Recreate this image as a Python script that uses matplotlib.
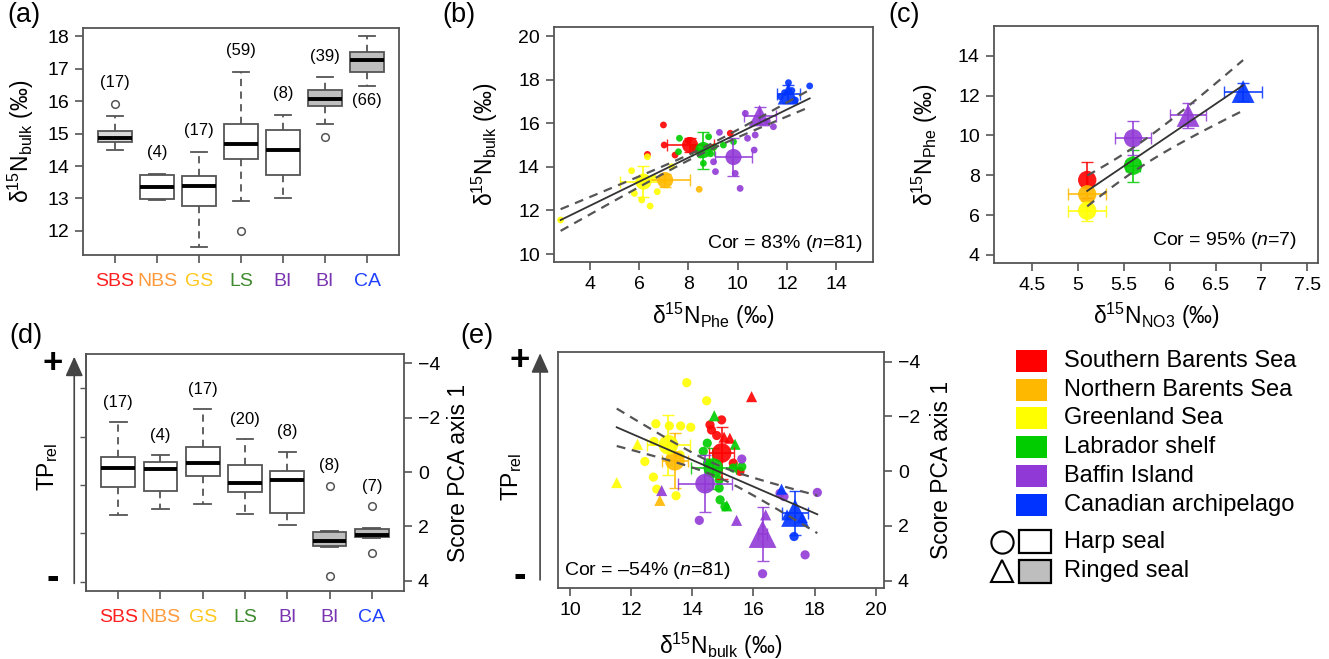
import matplotlib
matplotlib.use('Agg')
import matplotlib.pyplot as plt
import numpy as np
from matplotlib.patches import Rectangle
from matplotlib.lines import Line2D

plt.rcParams['font.family'] = ['Liberation Sans', 'DejaVu Sans']
plt.rcParams['mathtext.fontset'] = 'custom'
plt.rcParams['mathtext.rm'] = 'Liberation Sans'
plt.rcParams['mathtext.it'] = 'Liberation Sans:italic'
plt.rcParams['mathtext.bf'] = 'Liberation Sans:bold'

# ---------------- data ----------------
regions = ['Southern Barents Sea', 'Northern Barents Sea', 'Greenland Sea',
           'Labrador shelf', 'Baffin Island', 'Canadian archipelago']
region_colors = ['#FF0000', '#FFB800', '#FFFF00', '#00CC00', '#9139D6', '#0033FF']
box_labels = ['SBS', 'NBS', 'GS', 'LS', 'BI', 'BI', 'CA']
box_label_colors = ['#FF2020', '#FF9A3C', '#FFC81E', '#3F8A2E', '#7A35B0', '#7A35B0', '#2040FF']
box_region_idx = [0, 1, 2, 3, 4, 4, 5]
box_species = ['harp', 'harp', 'harp', 'harp', 'harp', 'ringed', 'ringed']

# (a) d15N bulk box statistics
a_med = [14.87, 13.35, 13.40, 14.68, 14.49, 16.07, 17.27]
a_q1 = [14.74, 12.99, 12.77, 14.22, 13.72, 15.86, 16.90]
a_q3 = [15.08, 13.71, 13.68, 15.29, 15.10, 16.33, 17.50]
a_wlo = [14.48, 12.94, 11.52, 12.92, 13.00, 15.28, 16.46]
a_whi = [15.53, 13.76, 14.44, 16.90, 15.58, 16.73, 18.00]
a_fliers = [[15.92], [], [], [11.99], [], [14.90], []]
a_n = [17, 4, 17, 59, 8, 39, 66]
a_fill = ['#D9D9D9', 'white', 'white', 'white', 'white', '#BEBEBE', '#BEBEBE']

# (d) PCA axis-1 score box statistics
d_med = [-0.14, -0.10, -0.32, 0.40, 0.30, 2.53, 2.31]
d_q1 = [-0.57, -0.36, -0.91, -0.26, -0.05, 2.20, 2.08]
d_q3 = [0.53, 0.68, 0.14, 0.74, 1.49, 2.72, 2.40]
d_wlo = [-1.83, -0.62, -2.31, -1.21, -0.75, 2.15, 2.05]
d_whi = [1.58, 1.36, 1.18, 1.55, 1.93, 2.75, 2.43]
d_fliers = [[], [], [], [], [], [0.50, 3.81], [1.25, 2.96]]
d_n = [17, 4, 17, 20, 8, 8, 7]
d_fill = ['white', 'white', 'white', 'white', 'white', '#BEBEBE', '#BEBEBE']
d_left_ticks = [-3.1, -1.3, 0.47, 2.25, 4.03]

# (b) individual points: d15N Phe (x) vs d15N bulk (y)
b_sbs_x = [6.99, 6.34, 7.02, 7.46, 9.70, 8.30, 8.00]
b_sbs_y = [15.92, 14.57, 15.00, 14.54, 15.54, 14.80, 15.20]
b_nbs_x = [8.44]
b_nbs_y = [12.97]
b_gs_x = [2.82, 5.70, 5.81, 6.11, 6.45, 6.34, 6.74, 7.33, 6.60]
b_gs_y = [11.56, 13.82, 12.78, 12.48, 12.20, 14.46, 12.86, 14.00, 13.50]
b_ls_x = [7.64, 7.60, 8.82, 8.48, 9.05, 9.42, 9.83, 8.61, 8.20, 8.90]
b_ls_y = [15.31, 14.69, 15.38, 14.54, 14.92, 15.00, 15.15, 14.16, 14.90, 14.60]
b_bi_x = [9.02, 9.10, 9.26, 10.10, 9.90, 10.67, 10.40, 10.71, 10.31, 11.45, 11.20]
b_bi_y = [14.23, 13.78, 15.58, 13.01, 13.70, 14.77, 15.31, 15.46, 16.45, 15.84, 16.10]
b_ca_x = [12.06, 12.92, 11.73, 12.34, 12.20, 11.90]
b_ca_y = [17.86, 17.71, 17.22, 17.06, 17.50, 17.40]
# (b) group means (order of boxes) and SDs
b_mean_x = [8.07, 7.06, 6.18, 8.61, 9.83, 10.89, 12.06]
b_mean_y = [15.00, 13.39, 13.32, 14.77, 14.45, 16.35, 17.35]
b_sd_x = [0.95, 1.00, 0.95, 0.45, 0.75, 0.65, 0.45]
b_sd_y = [0.30, 0.30, 0.70, 0.85, 0.85, 0.40, 0.40]
b_fit = (10.00, 0.5525)          # intercept, slope
b_ci = (8.5, 0.12, 0.085)        # centre, half-width at centre, spread

# (c) group means: d15N NO3 (x) vs d15N Phe (y)
c_mean_x = [5.10, 5.10, 5.10, 5.60, 5.60, 6.20, 6.80]
c_mean_y = [7.76, 7.04, 6.22, 8.48, 9.85, 11.00, 12.20]
c_sd_x = [0.0, 0.21, 0.21, 0.08, 0.20, 0.20, 0.21]
c_sd_y = [0.92, 0.35, 0.50, 0.80, 0.85, 0.65, 0.45]
c_fit = (-8.69, 3.118)
c_ci = (5.61, 0.61, 0.934)

# (e) individual points: d15N bulk (x) vs PCA axis-1 score (y)
e_sbs_harp_x = [14.58, 14.96, 14.63, 15.56, 15.34, 14.80]
e_sbs_harp_y = [-1.69, -1.87, -1.50, 0.01, -0.29, -1.30]
e_sbs_ring_x = [15.94, 15.04, 15.23]
e_sbs_ring_y = [-2.72, -1.24, -1.20]
e_nbs_ring_x = [12.94]
e_nbs_ring_y = [1.07]
e_gs_harp_x = [13.82, 14.47, 12.81, 13.25, 13.62, 13.95, 12.45, 12.73, 12.84, 13.47, 12.75, 13.60]
e_gs_harp_y = [-3.23, -2.57, -1.73, -1.65, -1.65, -1.60, -0.35, 0.22, 0.66, 0.90, -1.08, -0.59]
e_gs_ring_x = [12.21, 11.53]
e_gs_ring_y = [-0.98, 0.42]
e_ls_harp_x = [14.49, 14.36, 14.88, 14.91, 15.34, 14.88, 15.07, 14.50, 15.62]
e_ls_harp_y = [-1.02, -0.72, 0.32, 1.05, -0.11, 0.62, 1.30, -0.30, -0.16]
e_ls_ring_x = [14.72, 15.40, 15.13]
e_ls_ring_y = [-2.02, -0.98, 1.27]
e_bi_harp_x = [14.23, 15.62, 18.09, 17.00, 17.69, 16.30, 16.87]
e_bi_harp_y = [1.80, -0.44, 0.78, 0.93, 3.06, 3.75, 0.81]
e_bi_ring_x = [13.00, 15.45, 16.40]
e_bi_ring_y = [0.71, 1.80, 1.60]
e_ca_harp_x = [17.33]
e_ca_harp_y = [2.39]
e_ca_ring_x = [16.92, 17.60, 17.10]
e_ca_ring_y = [0.66, 1.70, 1.60]
e_mean_x = [14.96, 13.43, 13.22, 14.69, 14.42, 16.30, 17.36]
e_mean_y = [-0.66, -0.38, -0.96, -0.11, 0.46, 2.30, 1.53]
e_sd_x = [0.41, 0.43, 0.70, 0.73, 0.88, 0.15, 0.41]
e_sd_y = [0.95, 1.00, 1.10, 0.75, 1.05, 1.00, 0.80]
e_fit = (-7.189, 0.4847)
e_ci = (14.8, 0.22, 0.198)

# ---------------- figure ----------------
W, H = 1329, 659
fig = plt.figure(figsize=(W / 100, H / 100), dpi=100)
EDGE = '#555555'


def px_axes(x0, y0, x1, y1):
    return fig.add_axes([x0 / W, 1 - y1 / H, (x1 - x0) / W, (y1 - y0) / H])


def style(ax):
    for s in ax.spines.values():
        s.set_color(EDGE)
        s.set_linewidth(1.3)
    ax.tick_params(direction='out', length=6, width=1.2, color=EDGE,
                   labelsize=14, pad=4)


def boxes(ax, med, q1, q3, wlo, whi, fliers, fills):
    stats = [dict(med=m, q1=a, q3=b, whislo=lo, whishi=hi, fliers=f)
             for m, a, b, lo, hi, f in zip(med, q1, q3, wlo, whi, fliers)]
    bp = ax.bxp(stats, positions=range(1, len(stats) + 1), widths=0.8,
                capwidths=0.4, patch_artist=True, showfliers=True,
                boxprops=dict(edgecolor=EDGE, linewidth=1.3),
                whiskerprops=dict(color=EDGE, linestyle=(0, (4, 3)), linewidth=1.3),
                capprops=dict(color=EDGE, linewidth=1.3),
                medianprops=dict(color='black', linewidth=2.8),
                flierprops=dict(marker='o', markerfacecolor='none',
                                markeredgecolor=EDGE, markersize=5.5,
                                markeredgewidth=1.1))
    for p, fc in zip(bp['boxes'], fills):
        p.set_facecolor(fc)
    ax.set_xlim(0.24, len(stats) + 0.76)
    ax.set_xticks(range(1, len(stats) + 1))
    ax.set_xticklabels(box_labels)
    for t, c in zip(ax.get_xticklabels(), box_label_colors):
        t.set_color(c)
    ax.tick_params(axis='x', pad=7)


def fit_lines(ax, xs, fit, ci):
    xx = np.linspace(min(xs), max(xs), 100)
    yy = fit[0] + fit[1] * xx
    hw = np.sqrt(ci[1] ** 2 + (ci[2] * (xx - ci[0])) ** 2)
    ax.plot(xx, yy, color='#333333', lw=1.3, zorder=6)
    ax.plot(xx, yy + hw, color='#555555', lw=1.6, ls=(0, (4, 3)), zorder=6)
    ax.plot(xx, yy - hw, color='#555555', lw=1.6, ls=(0, (4, 3)), zorder=6)


def means(ax, mx, my, sx, sy, s_circ, s_tri, elw=1.3, cap=4):
    for i in range(len(mx)):
        col = region_colors[box_region_idx[i]]
        ax.errorbar(mx[i], my[i], xerr=sx[i], yerr=sy[i], fmt='none',
                    ecolor=col, elinewidth=elw, capsize=cap, alpha=0.85, zorder=4)
        if box_species[i] == 'harp':
            ax.scatter(mx[i], my[i], s=s_circ, marker='o', color=col,
                       edgecolors='none', alpha=0.9, zorder=5)
        else:
            ax.scatter(mx[i], my[i], s=s_tri, marker='^', color=col,
                       edgecolors='none', alpha=0.9, zorder=5)


def fig_px(x, y):
    return x / W, 1 - y / H


ylab_bulk = r'δ$^{15}$N$_{\mathrm{bulk}}$ (‰)'
LAB = 16.5

# ---- (a)
axa = px_axes(83, 28, 399, 255)
style(axa)
boxes(axa, a_med, a_q1, a_q3, a_wlo, a_whi, a_fliers, a_fill)
axa.set_ylim(11.26, 18.25)
axa.set_yticks(range(12, 19))
axa.set_ylabel(ylab_bulk, fontsize=LAB)
axa.yaxis.set_label_coords(-0.15, 0.5)
for i, n in enumerate(a_n):
    if i < 6:
        top = max([a_whi[i]] + a_fliers[i])
        axa.text(i + 1, top + 0.42, f'({n})', ha='center', va='bottom', fontsize=12)
    else:
        axa.text(i + 1, a_wlo[i] - 0.2, f'({n})', ha='center', va='top', fontsize=12)

# ---- (b)
axb = px_axes(553.7, 27.3, 873.3, 262.3)
style(axb)
small_b = [(b_sbs_x, b_sbs_y, 0), (b_nbs_x, b_nbs_y, 1), (b_gs_x, b_gs_y, 2),
           (b_ls_x, b_ls_y, 3), (b_bi_x, b_bi_y, 4), (b_ca_x, b_ca_y, 5)]
for xs, ys, ci in small_b:
    axb.scatter(xs, ys, s=24, color=region_colors[ci], edgecolors='none',
                alpha=0.9, zorder=3)
means(axb, b_mean_x, b_mean_y, b_sd_x, b_sd_y, 135, 240)
all_bx = sum([s[0] for s in small_b], [])
fit_lines(axb, all_bx, b_fit, b_ci)
axb.set_xlim(2.54, 15.5)
axb.set_ylim(9.62, 20.4)
axb.set_xticks(range(4, 15, 2))
axb.set_yticks(range(10, 21, 2))
axb.set_xlabel(r'δ$^{15}$N$_{\mathrm{Phe}}$ (‰)', fontsize=LAB)
axb.set_ylabel(ylab_bulk, fontsize=LAB)
axb.yaxis.set_label_coords(-0.168, 0.5)
axb.xaxis.set_label_coords(0.5, -0.165)
axb.text(0.968, 0.082, r'Cor = 83% ($n$=81)', transform=axb.transAxes,
         ha='right', va='center', fontsize=14)

# ---- (c)
axc = px_axes(993.7, 26, 1318.3, 263.3)
style(axc)
means(axc, c_mean_x, c_mean_y, c_sd_x, c_sd_y, 175, 270)
fit_lines(axc, c_mean_x, c_fit, c_ci)
axc.set_xlim(4.08, 7.62)
axc.set_ylim(3.58, 15.49)
axc.set_xticks([4.5, 5, 5.5, 6, 6.5, 7, 7.5])
axc.set_xticklabels(['4.5', '5', '5.5', '6', '6.5', '7', '7.5'])
axc.set_yticks(range(4, 15, 2))
axc.set_xlabel(r'δ$^{15}$N$_{\mathrm{NO3}}$ (‰)', fontsize=LAB)
axc.set_ylabel(r'δ$^{15}$N$_{\mathrm{Phe}}$ (‰)', fontsize=LAB)
axc.yaxis.set_label_coords(-0.165, 0.5)
axc.xaxis.set_label_coords(0.5, -0.16)
axc.text(0.933, 0.098, r'Cor = 95% ($n$=7)', transform=axc.transAxes,
         ha='right', va='center', fontsize=14)


def tp_arrow(ax, x, y0, y1, xp, yplus, yminus, xlab, ylab):
    ax.annotate('', xy=(x, y1), xytext=(x, y0), xycoords='axes fraction',
                textcoords='axes fraction', annotation_clip=False,
                arrowprops=dict(arrowstyle='-|>,head_length=1.0,head_width=0.45',
                                color='#444444', lw=1.2, shrinkA=0, shrinkB=0,
                                mutation_scale=12))
    ax.text(xp, yplus, '+', transform=ax.transAxes, ha='center', va='center',
            fontsize=25, fontweight='bold', clip_on=False)
    ax.text(xp, yminus, '-', transform=ax.transAxes, ha='center', va='center',
            fontsize=27, fontweight='bold', clip_on=False)
    ax.text(xlab, ylab, r'TP$_{\mathrm{rel}}$', transform=ax.transAxes,
            ha='center', va='center', rotation=90, fontsize=LAB, clip_on=False)


# ---- (d)
axd = px_axes(86, 354.3, 404, 590.7)
style(axd)
boxes(axd, d_med, d_q1, d_q3, d_wlo, d_whi, d_fliers, d_fill)
axd.set_ylim(4.36, -4.33)
axd.yaxis.tick_right()
axd.yaxis.set_label_position('right')
axd.set_yticks([-4, -2, 0, 2, 4])
axd.set_ylabel('Score PCA axis 1', fontsize=LAB)
axd.yaxis.set_label_coords(1.134, 0.5)
sec = axd.secondary_yaxis('left')
sec.set_yticks(d_left_ticks)
sec.set_yticklabels([])
sec.tick_params(length=4, width=1.0, color=EDGE)
sec.spines['left'].set_color(EDGE)
sec.spines['left'].set_linewidth(1.3)
for i, n in enumerate(d_n):
    top = min([d_wlo[i]] + d_fliers[i])
    axd.text(i + 1, top - 0.45, f'({n})', ha='center', va='bottom', fontsize=12)
tp_arrow(axd, -0.037, 0.031, 0.99, -0.104, 0.962, 0.048, -0.121, 0.525)

# ---- (e)
axe = px_axes(557.7, 352.3, 884, 587.7)
style(axe)
small_e = [(e_sbs_harp_x, e_sbs_harp_y, 0, 'o'), (e_sbs_ring_x, e_sbs_ring_y, 0, '^'),
           (e_nbs_ring_x, e_nbs_ring_y, 1, '^'),
           (e_gs_harp_x, e_gs_harp_y, 2, 'o'), (e_gs_ring_x, e_gs_ring_y, 2, '^'),
           (e_ls_harp_x, e_ls_harp_y, 3, 'o'), (e_ls_ring_x, e_ls_ring_y, 3, '^'),
           (e_bi_harp_x, e_bi_harp_y, 4, 'o'), (e_bi_ring_x, e_bi_ring_y, 4, '^'),
           (e_ca_harp_x, e_ca_harp_y, 5, 'o'), (e_ca_ring_x, e_ca_ring_y, 5, '^')]
for xs, ys, ci, mk in small_e:
    axe.scatter(xs, ys, s=44 if mk == 'o' else 64, marker=mk,
                color=region_colors[ci], edgecolors='none', alpha=0.9, zorder=3)
means(axe, e_mean_x, e_mean_y, e_sd_x, e_sd_y, 200, 400)
all_ex = sum([s[0] for s in small_e], [])
fit_lines(axe, all_ex, e_fit, e_ci)
axe.set_xlim(9.6, 20.27)
axe.set_ylim(4.26, -4.34)
axe.set_xticks(range(10, 21, 2))
axe.yaxis.tick_right()
axe.yaxis.set_label_position('right')
axe.set_yticks([-4, -2, 0, 2, 4])
axe.set_ylabel('Score PCA axis 1', fontsize=LAB)
axe.yaxis.set_label_coords(1.141, 0.5)
axe.set_xlabel(ylab_bulk, fontsize=LAB)
axe.xaxis.set_label_coords(0.5, -0.185)
axe.text(0.019, 0.072, r'Cor = –54% ($n$=81)', transform=axe.transAxes,
         ha='left', va='center', fontsize=14)
tp_arrow(axe, -0.054, 0.033, 0.996, -0.116, 0.964, 0.047, -0.141, 0.472)

# ---- panel labels
for lab, (x, y) in zip(['(a)', '(b)', '(c)', '(d)', '(e)'],
                       [(24, 15), (459, 15), (904, 15), (26, 336), (477, 336)]):
    fig.text(*fig_px(x, y), lab, ha='center', va='center', fontsize=19.5)

# ---- legend (overlay axes in pixel units)
axl = fig.add_axes([0, 0, 1, 1], facecolor='none')
axl.set_xlim(0, W)
axl.set_ylim(H, 0)
axl.axis('off')
for i, (name, col) in enumerate(zip(regions, region_colors)):
    yc = 361 + i * 28.7
    axl.add_patch(Rectangle((1015.7, yc - 11), 31, 22, facecolor=col,
                            edgecolor='none'))
    axl.text(1064, yc, name, ha='left', va='center', fontsize=17)
for yc, mk, fc, name in [(541.7, 'o', 'white', 'Harp seal'),
                         (571, '^', '#BEBEBE', 'Ringed seal')]:
    axl.add_line(Line2D([1002], [yc], marker=mk, markersize=16,
                        markerfacecolor='none', markeredgecolor='black',
                        markeredgewidth=1.5))
    axl.add_patch(Rectangle((1019, yc - 11.5), 32, 23, facecolor=fc,
                            edgecolor='black', linewidth=1.6))
    axl.text(1064, yc, name, ha='left', va='center', fontsize=17)

fig.savefig('out.png', dpi=100)
